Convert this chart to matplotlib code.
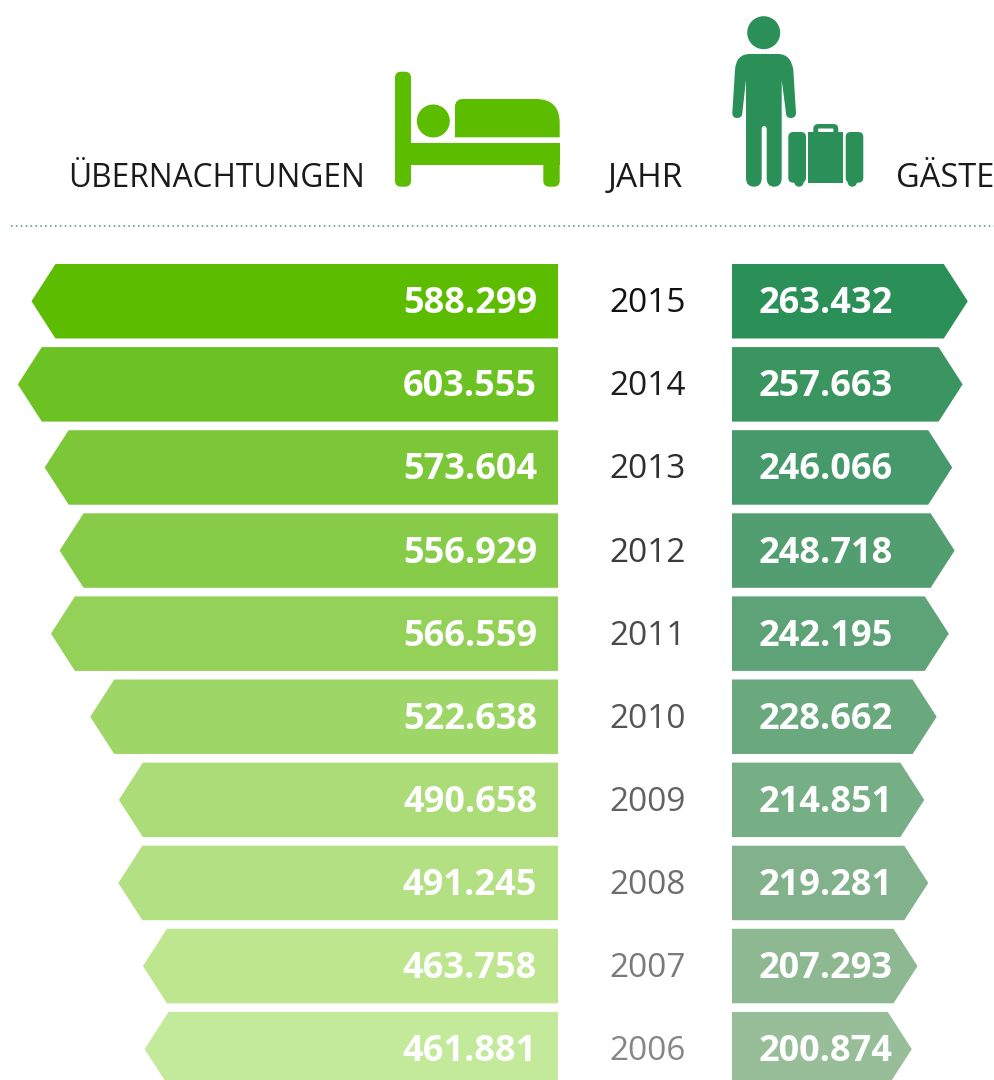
import matplotlib
matplotlib.use('Agg')
import matplotlib.pyplot as plt
from matplotlib.patches import Polygon, Circle, FancyBboxPatch, PathPatch, Rectangle
from matplotlib.path import Path

years = [2015, 2014, 2013, 2012, 2011, 2010, 2009, 2008, 2007, 2006]
naechte = [588299, 603555, 573604, 556929, 566559, 522638, 490658, 491245, 463758, 461881]
gaeste = [263432, 257663, 246066, 248718, 242195, 228662, 214851, 219281, 207293, 200874]
farben_links = ['#5cbd00', '#6cc222', '#7bc737', '#87cc48', '#93d158', '#9fd668', '#abdc78', '#b3e083', '#bde68f', '#c3e99a']
farben_rechts = ['#2a9058', '#3a9560', '#46996a', '#529e70', '#5ea377', '#6aa87d', '#76ae86', '#82b28c', '#8db892', '#97be99']
farben_jahr = ['#111111', '#1d1d1d', '#2e2e2e', '#3c3c3c', '#4a4a4a', '#555555', '#626262', '#6e6e6e', '#7a7a7a', '#868686']

GRUEN = '#5cbd00'
DUNKEL = '#2a9058'
FONT = 'Open Sans'

fig = plt.figure(figsize=(9.95, 10.8), dpi=100)
ax = fig.add_axes([0, 0, 1, 1])
ax.set_xlim(0, 995)
ax.set_ylim(1080, 0)
ax.axis('off')

scale = 0.000895
bar_h = 74.5
step = 83.1
spitze = 24

for i, year in enumerate(years):
    top = 264 + i * step
    mid = top + bar_h / 2
    xl = 558 - naechte[i] * scale
    xr = 732 + gaeste[i] * scale
    ax.add_patch(Polygon([(558, top), (xl + spitze, top), (xl, mid), (xl + spitze, top + bar_h), (558, top + bar_h)],
                         closed=True, fc=farben_links[i], ec='none'))
    ax.add_patch(Polygon([(732, top), (xr - spitze, top), (xr, mid), (xr - spitze, top + bar_h), (732, top + bar_h)],
                         closed=True, fc=farben_rechts[i], ec='none'))
    ax.text(537, mid - 1.5, f'{naechte[i]:,}'.replace(',', '.'), ha='right', va='center_baseline', color='white',
            fontsize=26, fontweight='bold', family=FONT)
    ax.text(759, mid - 1.5, f'{gaeste[i]:,}'.replace(',', '.'), ha='left', va='center_baseline', color='white',
            fontsize=26, fontweight='bold', family=FONT)
    ax.text(648, mid - 1.5, str(year), ha='center', va='center_baseline', color=farben_jahr[i], fontsize=24, family=FONT)

ax.text(365, 187, 'ÜBERNACHTUNGEN', ha='right', va='baseline', fontsize=22.8, color='#1a1a1a', family=FONT)
ax.text(645, 187, 'JAHR', ha='center', va='baseline', fontsize=24, color='#1a1a1a', family=FONT)
ax.text(994, 187, 'GÄSTE', ha='right', va='baseline', fontsize=23.5, color='#1a1a1a', family=FONT)

ax.plot([11, 995], [226, 226], color='#3f9a70', lw=1.1, dashes=(1, 2.2))


def rund(x0, y0, x1, y1, r, farbe):
    ax.add_patch(FancyBboxPatch((x0 + r, y0 + r), x1 - x0 - 2 * r, y1 - y0 - 2 * r,
                                boxstyle=f'round,pad={r},rounding_size={r}', fc=farbe, ec='none'))


# Bett
rund(395, 71.7, 411, 186.7, 6, GRUEN)
rund(543.3, 150, 559.7, 186.7, 6, GRUEN)
ax.add_patch(Rectangle((400, 143), 159.7, 22, fc=GRUEN, ec='none'))
ax.add_patch(Circle((433.3, 121), 16.5, fc=GRUEN, ec='none'))
ax.add_patch(PathPatch(Path([(455, 137.3), (455, 107), (455, 99), (463, 99), (536, 99), (559.7, 99), (559.7, 123), (559.7, 137.3), (455, 137.3)],
                            [1, 2, 3, 3, 2, 3, 3, 2, 79]), fc=GRUEN, ec='none'))

# Person
ax.add_patch(Circle((763.7, 32.7), 16.5, fc=DUNKEL, ec='none'))
person_punkte = [
    (750, 54), (778, 54),
    (791, 54), (793.3, 70),
    (796, 113),
    (796, 118), (790.7, 118), (786, 118), (786, 113),
    (781.7, 80),
    (781.7, 178),
    (781.7, 186.7), (774.2, 186.7), (766.7, 186.7), (766.7, 178),
    (766.7, 129),
    (766.7, 126), (764.2, 126), (761.7, 126), (761.7, 129),
    (761.7, 178),
    (761.7, 186.7), (754, 186.7), (746, 186.7), (746, 178),
    (746, 80),
    (742.3, 113),
    (742.3, 118), (737, 118), (732.3, 118), (732.3, 113),
    (735, 70),
    (736, 54), (750, 54),
]
person_codes = [1, 2, 3, 3, 2, 3, 3, 3, 3, 2, 2, 3, 3, 3, 3, 2, 3, 3, 3, 3, 2, 3, 3, 3, 3, 2, 2, 3, 3, 3, 3, 2, 3, 3]
ax.add_patch(PathPatch(Path(person_punkte, person_codes), fc=DUNKEL, ec='none'))

# Koffer
rund(788.3, 132, 806, 182.7, 5, DUNKEL)
rund(845.7, 132, 863.3, 182.7, 5, DUNKEL)
ax.add_patch(Rectangle((808.3, 132), 35, 50.7, fc=DUNKEL, ec='none'))
ax.add_patch(Circle((799, 182), 4.7, fc=DUNKEL, ec='none'))
ax.add_patch(Circle((852.3, 182), 4.7, fc=DUNKEL, ec='none'))
rund(813.3, 124, 838.3, 136, 5, DUNKEL)
rund(818, 128.5, 833.5, 132, 1.2, 'white')

fig.savefig('out.png', dpi=100, facecolor='white')
